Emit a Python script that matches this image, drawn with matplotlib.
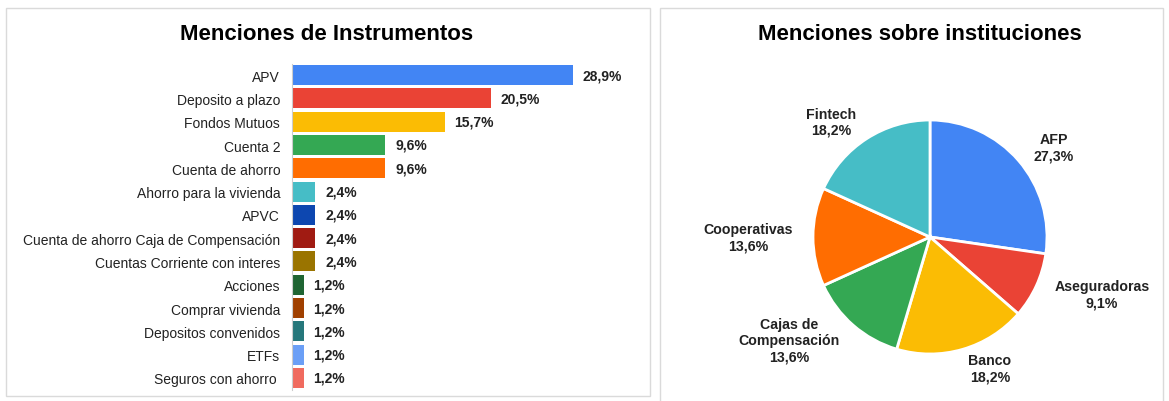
import matplotlib.pyplot as plt
from matplotlib.patches import Rectangle

plt.rcParams['font.family'] = ['Liberation Sans', 'DejaVu Sans']

# Datos: menciones de instrumentos
instrumentos = ["APV", "Deposito a plazo", "Fondos Mutuos", "Cuenta 2", "Cuenta de ahorro",
                "Ahorro para la vivienda", "APVC", "Cuenta de ahorro Caja de Compensación",
                "Cuentas Corriente con interes", "Acciones", "Comprar vivienda",
                "Depositos convenidos", "ETFs", "Seguros con ahorro "]
pct_instrumentos = [28.9, 20.5, 15.7, 9.6, 9.6, 2.4, 2.4, 2.4, 2.4, 1.2, 1.2, 1.2, 1.2, 1.2]
colores_instrumentos = ["#4285F4", "#EA4335", "#FBBC04", "#34A853", "#FF6D01", "#46BDC6",
                        "#0D47B0", "#A01B12", "#9A7400", "#1F6533", "#A04000", "#26777B",
                        "#6B9FF6", "#F06B5F"]

# Datos: menciones sobre instituciones
instituciones = ["AFP", "Aseguradoras", "Banco", "Cajas de\nCompensación", "Cooperativas", "Fintech"]
pct_instituciones = [27.3, 9.1, 18.2, 13.6, 13.6, 18.2]
colores_instituciones = ["#4285F4", "#EA4335", "#FBBC04", "#34A853", "#FF6D01", "#46BDC6"]

W, H = 1169, 402
fig = plt.figure(figsize=(W / 100, H / 100), dpi=100)


def px_rect(x0, y0, x1, y1):
    # pixeles (desde arriba) -> fraccion de figura
    return [x0 / W, 1 - y1 / H, (x1 - x0) / W, (y1 - y0) / H]


# marcos de los paneles
for x0, y0, x1, y1 in [(6, 9, 650, 397), (660, 9, 1163, 410)]:
    fig.add_artist(Rectangle((x0 / W, 1 - y1 / H), (x1 - x0) / W, (y1 - y0) / H,
                             transform=fig.transFigure, fill=False, edgecolor="#DADADA", lw=1))

# 1. Barras horizontales
ax1 = fig.add_axes(px_rect(292, 64.5, 640, 390.5))
pos = list(range(len(instrumentos)))
ax1.barh(pos, pct_instrumentos, height=0.86, color=colores_instrumentos)
ax1.set_xlim(0, 348 / 9.72)
ax1.set_ylim(len(instrumentos) - 0.5, -0.5)
ax1.set_yticks(pos)
ax1.set_yticklabels(instrumentos, fontsize=10, color="#222222")
ax1.tick_params(axis="y", length=0, pad=8.5)
ax1.set_xticks([])
for s in ["top", "right", "bottom"]:
    ax1.spines[s].set_visible(False)
ax1.spines["left"].set_color("#CCCCCC")
for p, v in zip(pos, pct_instrumentos):
    ax1.annotate(f"{v:.1f}%".replace(".", ","), (v, p), xytext=(7, 0), textcoords="offset points",
                 va="center", ha="left", fontsize=10, fontweight="bold", color="#222222")
fig.text(327 / W, 1 - 34 / H, "Menciones de Instrumentos", ha="center", va="center",
         fontsize=16, fontweight="bold")

# 2. Torta
ax2 = fig.add_axes(px_rect(780, 88, 1080, 388))
etiquetas = [f"{n}\n{v:.1f}%".replace(".", ",") for n, v in zip(instituciones, pct_instituciones)]
ax2.pie(pct_instituciones, colors=colores_instituciones, startangle=90, counterclock=False,
        labels=etiquetas, labeldistance=1.17,
        wedgeprops=dict(edgecolor="white", linewidth=2),
        textprops=dict(fontsize=10.2, fontweight="bold", color="#222222", multialignment="center"))
ax2.set_xlim(-150 / 117, 150 / 117)
ax2.set_ylim(-150 / 117, 150 / 117)
ax2.set_aspect("equal")
fig.text(920 / W, 1 - 34 / H, "Menciones sobre instituciones", ha="center", va="center",
         fontsize=16, fontweight="bold")

fig.savefig("out.png", dpi=100)
